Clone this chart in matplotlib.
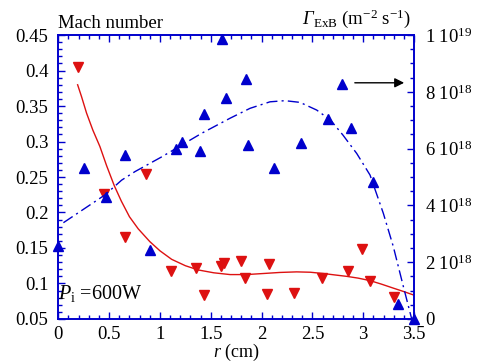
import matplotlib
matplotlib.use('Agg')
import matplotlib.pyplot as plt
from matplotlib.ticker import MultipleLocator, FixedLocator, FixedFormatter

plt.rcParams['font.family'] = 'Liberation Serif'
plt.rcParams['mathtext.fontset'] = 'custom'
plt.rcParams['mathtext.rm'] = 'Liberation Serif'
plt.rcParams['mathtext.it'] = 'Liberation Serif:italic'
plt.rcParams['mathtext.bf'] = 'Liberation Serif:bold'

# Mach number (left axis), red down triangles
mach_r = [0.19, 0.45, 0.66, 0.86, 1.105, 1.357, 1.43, 1.597, 1.633, 1.80, 1.84,
          2.056, 2.07, 2.316, 2.59, 2.85, 2.985, 3.07, 3.30]
mach = [0.405, 0.226, 0.165, 0.254, 0.117, 0.122, 0.084, 0.125, 0.129, 0.132, 0.107,
        0.085, 0.128, 0.087, 0.108, 0.117, 0.148, 0.103, 0.081]

# Mach fit curve
mach_fit_r = [0.19, 0.229, 0.278, 0.34, 0.409, 0.475, 0.55, 0.62, 0.70, 0.786,
              0.90, 1.00, 1.115, 1.25, 1.377, 1.53, 1.69, 1.85, 2.017, 2.18,
              2.345, 2.48, 2.607, 2.72, 2.837, 2.95, 3.067, 3.18, 3.296, 3.40, 3.5]
mach_fit = [0.380, 0.363, 0.340, 0.316, 0.293, 0.266, 0.238, 0.216, 0.194, 0.177,
            0.159, 0.146, 0.134, 0.125, 0.119, 0.115, 0.1125, 0.1125, 0.1140, 0.1155,
            0.1163, 0.1158, 0.1140, 0.1120, 0.1100, 0.1075, 0.1040, 0.0990, 0.0934, 0.0885, 0.0835]

# ExB flux (right axis, 1e18 m^-2 s^-1), blue up triangles
flux_r = [0.0, 0.255, 0.465, 0.655, 0.90, 1.154, 1.22, 1.394, 1.436, 1.61, 1.647,
          1.846, 1.87, 2.12, 2.39, 2.65, 2.79, 2.877, 3.10, 3.34, 3.5]
flux = [2.57, 5.33, 4.28, 5.77, 2.42, 6.00, 6.22, 5.92, 7.22, 9.85, 7.78,
        8.46, 6.12, 5.33, 6.20, 7.03, 8.26, 6.74, 4.84, 0.52, 0.0]

# flux fit curve
flux_fit_r = [0.05, 0.459, 0.623, 0.754, 1.017, 1.41, 1.689, 1.886, 2.083, 2.23,
              2.378, 2.542, 2.68, 2.80, 2.936, 3.067, 3.198, 3.296, 3.395, 3.477]
flux_fit = [3.39, 4.37, 4.89, 5.19, 5.71, 6.54, 7.07, 7.42, 7.65, 7.69,
            7.63, 7.36, 7.00, 6.48, 5.83, 5.07, 3.72, 2.55, 1.14, 0.0]

right_ticks = [0, 2e18, 4e18, 6e18, 8e18, 1e19]
right_labels = ['0', r'$2\ 10^{18}$', r'$4\ 10^{18}$', r'$6\ 10^{18}$',
                r'$8\ 10^{18}$', r'$1\ 10^{19}$']

blue = '#0000cc'
red = '#dd1111'

fig = plt.figure(figsize=(4.82, 3.62), dpi=100)
ax = fig.add_axes([0.121, 0.119, 0.738, 0.784])
ax2 = ax.twinx()

ax.plot(mach_fit_r, mach_fit, '-', color=red, lw=1)
ax.plot(mach_r, mach, 'v', color=red, ms=7, clip_on=False)

ax2.plot(flux_fit_r, [f * 1e18 for f in flux_fit], color=blue, lw=1,
         dashes=[8, 3, 1.5, 3])
ax2.plot(flux_r, [f * 1e18 for f in flux], '^', color=blue, ms=6.5, clip_on=False)

ax.set_xlim(0, 3.5)
ax.set_ylim(0.05, 0.45)
ax2.set_ylim(0, 1e19)

ax.xaxis.set_minor_locator(MultipleLocator(0.1))
ax.yaxis.set_minor_locator(MultipleLocator(0.01))
ax.set_xticks([0, 0.5, 1, 1.5, 2, 2.5, 3, 3.5])
ax.set_xticklabels(['0', '0.5', '1', '1.5', '2', '2.5', '3', '3.5'])
ax.set_yticks([0.05, 0.1, 0.15, 0.2, 0.25, 0.3, 0.35, 0.4, 0.45])
ax.set_yticklabels(['0.05', '0.1', '0.15', '0.2', '0.25', '0.3', '0.35', '0.4', '0.45'])

ax2.yaxis.set_major_locator(FixedLocator(right_ticks))
ax2.yaxis.set_major_formatter(FixedFormatter(right_labels))
ax2.yaxis.set_minor_locator(MultipleLocator(0.5e18))

for a in (ax, ax2):
    for s in a.spines.values():
        s.set_color(blue)
        s.set_linewidth(1.2)
    a.tick_params(which='both', direction='in', color=blue, labelsize=13.5,
                  labelcolor='black')
    a.tick_params(which='major', length=5, width=1)
    a.tick_params(which='minor', length=3, width=1)
ax.tick_params(which='both', top=True)
ax.tick_params(axis='x', pad=5)
ax.tick_params(axis='y', pad=7)
ax2.tick_params(axis='y', pad=8)

ax.set_xlabel(r'$\mathit{r}$ (cm)', fontsize=13, labelpad=-1)
fig.text(0.121, 0.922, 'Mach number', fontsize=13.5, ha='left', va='baseline')

# flux label: italic Gamma, then subscript and units
unit_txt = fig.text(0.852, 0.935, r'$_{\rm ExB}$ (m$^{-2}$ s$^{-1}$)',
                    fontsize=13.5, ha='right', va='baseline')
fig.canvas.draw()
bb = unit_txt.get_window_extent()
fig.text(bb.x0 / fig.bbox.width, 0.935, 'Γ', fontsize=13.5, style='italic',
         ha='right', va='baseline')

ax.text(0.0, 0.07, r'$\mathit{P}_{\rm i}$ =600W', fontsize=14.5,
        transform=ax.transAxes, ha='left', va='baseline')

ax2.annotate('', xy=(3.43, 8.32e18), xytext=(2.89, 8.32e18),
             arrowprops=dict(arrowstyle='-|>', color='black', lw=1,
                             mutation_scale=14))

fig.savefig('out.png', dpi=100)
